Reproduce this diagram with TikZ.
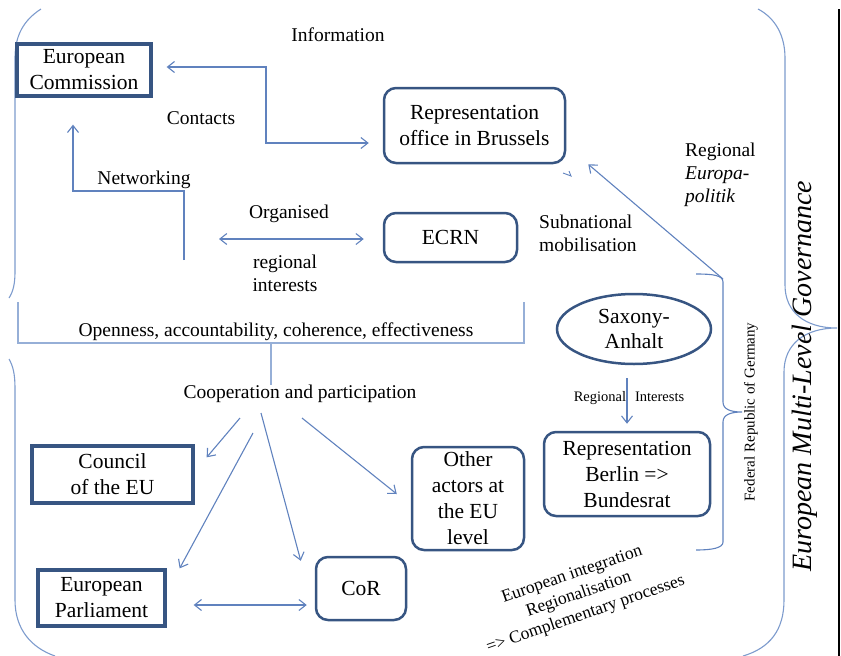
\documentclass[tikz,border=0pt]{standalone}
\usepackage{fontspec}
\setmainfont{Liberation Serif}
\usetikzlibrary{arrows.meta,shapes.geometric,calc}
\definecolor{boxc}{RGB}{55,85,130}
\definecolor{linec}{RGB}{96,130,190}
\definecolor{framec}{RGB}{125,155,205}
\definecolor{openc}{RGB}{150,175,215}
\begin{document}
\begin{tikzpicture}[x=1pt,y=-1pt,
  sqbox/.style={draw=boxc,line width=3.3pt,fill=white,align=center,inner sep=0pt,font=\fontsize{21.5}{26}\selectfont},
  rbox/.style={draw=boxc,line width=2.5pt,rounded corners=12pt,fill=white,align=center,inner sep=0pt,font=\fontsize{21.5}{26}\selectfont},
  lbl/.style={align=center,inner sep=0pt,font=\fontsize{19.5}{23}\selectfont},
  conn/.style={draw=linec,line width=1.1pt,>={Straight Barb[length=7pt,width=11pt]}},
  frame/.style={draw=framec,line width=1.1pt},
  openframe/.style={draw=openc,line width=1.3pt},
]
\useasboundingbox (0,0) rectangle (841,656);

% big brackets
\draw[frame] (41,9) .. controls (24,20) and (15,35) .. (15,58) -- (15,272) .. controls (15,284) and (13,292) .. (9,298);
\draw[frame] (9,359) .. controls (13,366) and (15,374) .. (15,388) -- (15,600) .. controls (15,630) and (32,648) .. (55,656);
\draw[frame] (758,9) .. controls (775,18) and (785,35) .. (785,58) -- (785,285) .. controls (785,312) and (805,328) .. (837,328) .. controls (805,328) and (784,344) .. (784,372) -- (784,600) .. controls (784,630) and (770,648) .. (743,656);
\draw[black,line width=2.5pt] (839,9) -- (839,656);

% boxes
\node[sqbox,minimum width=134pt,minimum height=52pt] (ec) at (84,70) {European\\Commission};
\node[rbox,minimum width=181pt,minimum height=75pt] (rep) at (474.5,125.5) {Representation\\office in Brussels};
\node[rbox,minimum width=133pt,minimum height=49pt] (ecrn) at (450.5,237.5) {ECRN};
\node[ellipse,draw=boxc,line width=2.5pt,minimum width=154pt,minimum height=70pt,inner sep=0pt,align=center,font=\fontsize{21.5}{25}\selectfont] (sax) at (634,329) {Saxony-\\Anhalt};
\node[rbox,minimum width=166pt,minimum height=84pt] (berlin) at (627,474) {Representation\\Berlin =>\\Bundesrat};
\node[rbox,minimum width=112pt,minimum height=103pt] (other) at (468,498.5) {Other\\actors at\\the EU\\level};
\node[rbox,minimum width=90pt,minimum height=63pt] (cor) at (361,588.5) {CoR};
\node[sqbox,minimum width=161pt,minimum height=57pt] (council) at (112.5,474.5) {Council\\of the EU};
\node[sqbox,minimum width=127pt,minimum height=56pt] (ep) at (101.5,598) {European\\Parliament};

% labels
\node[lbl] (info) at (338,35) {Information};
\node[lbl] (contacts) at (201,118) {Contacts};
\node[lbl] (netw) at (144,180) {Networking};
\node[lbl] (org) at (289,214) {Organised};
\node[lbl] (regint) at (285,273) {regional\\interests};
\node[lbl,align=left,anchor=west] (subnat) at (539,233.5) {Subnational\\mobilisation};
\node[lbl,align=left,anchor=west] (repol) at (685,175) {Regional\\\textit{Europa-}\\\textit{politik}};
\node[lbl] (open) at (276,332) {Openness, accountability, coherence, effectiveness};
\node[lbl] (coop) at (300,394) {Cooperation and participation};
\node[lbl,font=\fontsize{14.5}{17}\selectfont] (rint) at (629,398) {Regional\hspace{9pt}Interests};
\node[lbl,font=\fontsize{15}{18}\selectfont,rotate=90] (frg) at (751,412) {Federal Republic of Germany};
\node[lbl,font=\fontsize{28}{32}\selectfont\itshape,rotate=90] (emlg) at (805,376) {European Multi-Level Governance};
\node[lbl,font=\fontsize{17.5}{21}\selectfont,rotate=19] (proc) at (579,595) {European integration\\Regionalisation\\=> Complementary processes};

% connectors
\draw[conn,<->] ($(ec.east)+(14,-3)$) -| (266,143) -- ($(rep.west)+(-14,17.5)$);
\coordinate (netstart) at (184,260);
\draw[conn,->] (netstart) |- (73,191) -- ($(ec.south)+(-11,27)$);
\coordinate (orgL) at (219,239);
\draw[conn,<->] (orgL) -- ($(ecrn.west)+(-19,1.5)$);

\draw[openframe] (18,302) |- (524,343) -- (524,302);
\coordinate (obot) at (271,343);
\draw[openframe] (obot) -- (obot |- coop.north);

\draw[conn,->] ($(coop)+(-60,24)$) -- ($(council.north east)+(12,13)$);
\draw[conn,->] ($(coop)+(-47,39)$) -- ($(ep.north east)+(13,0)$);
\draw[conn,->] ($(coop)+(-39,19)$) -- ($(cor.north west)+(-14,5)$);
\draw[conn,->] ($(coop)+(2,24)$) -- ($(other.west)+(-14,-4.5)$);
\draw[conn,<->] ($(ep.east)+(27,7)$) -- ($(cor.west)+(-8,16.5)$);

\draw[conn,->] ($(sax.south -| berlin.north)+(0,13)$) -- ($(berlin.north)+(0,-7)$);

% Federal Republic brace
\coordinate (bt) at (723,279);
\draw[conn] (696,274) .. controls (712,274) and (723,275) .. (723,282) -- (723,402) .. controls (723,409) and (730,412) .. (742,412) .. controls (730,412) and (723,415) .. (723,422) -- (723,542) .. controls (723,548) and (712,550) .. (696,550);
\draw[conn,->] (bt) -- ($(rep.south east)+(22,0)$);
\draw[conn,line width=0.9pt] (563,173) -- (571,176) -- (569,171);
\end{tikzpicture}
\end{document}
